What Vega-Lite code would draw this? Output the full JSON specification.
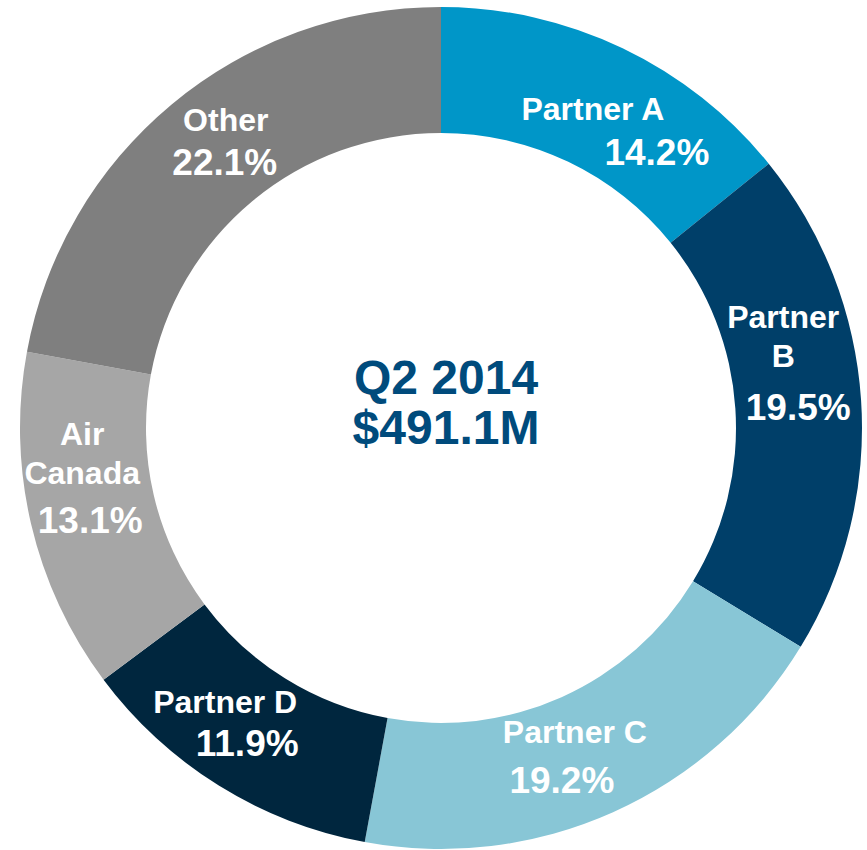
{
  "$schema": "https://vega.github.io/schema/vega-lite/v6.json",
  "width": 852,
  "height": 844,
  "autosize": "none",
  "padding": {"left": 15, "top": 6, "right": 0, "bottom": 0},
  "background": "white",
  "config": {
    "view": {"stroke": null},
    "text": {"font": "Liberation Sans", "fontWeight": "bold", "color": "white", "align": "center", "baseline": "alphabetic", "lineBreak": "\n", "lineHeight": 39}
  },
  "data": {
    "values": [
      {"idx": 1, "segment": "Partner A", "name": "Partner A", "pct": 14.2, "label": "14.2%"},
      {"idx": 2, "segment": "Partner B", "name": "Partner\nB", "pct": 19.5, "label": "19.5%"},
      {"idx": 3, "segment": "Partner C", "name": "Partner C", "pct": 19.2, "label": "19.2%"},
      {"idx": 4, "segment": "Partner D", "name": "Partner D", "pct": 11.9, "label": "11.9%"},
      {"idx": 5, "segment": "Air Canada", "name": "Air\nCanada", "pct": 13.1, "label": "13.1%"},
      {"idx": 6, "segment": "Other", "name": "Other", "pct": 22.1, "label": "22.1%"}
    ]
  },
  "encoding": {
    "theta": {"field": "pct", "type": "quantitative", "stack": true},
    "order": {"field": "idx", "type": "quantitative"}
  },
  "layer": [
    {
      "mark": {"type": "arc", "radius": 421, "radius2": 295, "stroke": null},
      "encoding": {
        "color": {
          "field": "segment",
          "type": "nominal",
          "scale": {
            "domain": ["Partner A", "Partner B", "Partner C", "Partner D", "Air Canada", "Other"],
            "range": ["#0096C8", "#003F69", "#88C6D6", "#00263E", "#A6A6A6", "#7F7F7F"]
          },
          "legend": null
        }
      }
    },
    {"mark": {"type": "text", "radius": 352, "fontSize": 32, "dx": 0, "dy": 10},
     "encoding": {"text": {"condition": {"test": "datum.idx === 1", "field": "name"}, "value": ""}}},
    {"mark": {"type": "text", "radius": 352, "fontSize": 32, "dx": -9, "dy": -77},
     "encoding": {"text": {"condition": {"test": "datum.idx === 2", "field": "name"}, "value": ""}}},
    {"mark": {"type": "text", "radius": 352, "fontSize": 32, "dx": -10, "dy": -6},
     "encoding": {"text": {"condition": {"test": "datum.idx === 3", "field": "name"}, "value": ""}}},
    {"mark": {"type": "text", "radius": 352, "fontSize": 32, "dx": -30, "dy": -14},
     "encoding": {"text": {"condition": {"test": "datum.idx === 4", "field": "name"}, "value": ""}}},
    {"mark": {"type": "text", "radius": 352, "fontSize": 32, "dx": -16, "dy": -63},
     "encoding": {"text": {"condition": {"test": "datum.idx === 5", "field": "name"}, "value": ""}}},
    {"mark": {"type": "text", "radius": 352, "fontSize": 32, "dx": 10, "dy": -26},
     "encoding": {"text": {"condition": {"test": "datum.idx === 6", "field": "name"}, "value": ""}}},
    {"mark": {"type": "text", "radius": 352, "fontSize": 37, "dx": 64, "dy": 55},
     "encoding": {"text": {"condition": {"test": "datum.idx === 1", "field": "label"}, "value": ""}}},
    {"mark": {"type": "text", "radius": 352, "fontSize": 37, "dx": 6, "dy": 15},
     "encoding": {"text": {"condition": {"test": "datum.idx === 2", "field": "label"}, "value": ""}}},
    {"mark": {"type": "text", "radius": 352, "fontSize": 37, "dx": -23, "dy": 44},
     "encoding": {"text": {"condition": {"test": "datum.idx === 3", "field": "label"}, "value": ""}}},
    {"mark": {"type": "text", "radius": 352, "fontSize": 37, "dx": -8, "dy": 29},
     "encoding": {"text": {"condition": {"test": "datum.idx === 4", "field": "label"}, "value": ""}}},
    {"mark": {"type": "text", "radius": 352, "fontSize": 37, "dx": -8, "dy": 25},
     "encoding": {"text": {"condition": {"test": "datum.idx === 5", "field": "label"}, "value": ""}}},
    {"mark": {"type": "text", "radius": 352, "fontSize": 37, "dx": 9, "dy": 18},
     "encoding": {"text": {"condition": {"test": "datum.idx === 6", "field": "label"}, "value": ""}}},
    {
      "data": {"values": [{"title": "Q2 2014\n$491.1M"}]},
      "mark": {"type": "text", "baseline": "middle", "dy": -48, "dx": 5, "fontSize": 48, "lineHeight": 50, "color": "#004B7C"},
      "encoding": {"text": {"field": "title", "type": "nominal"}, "theta": null, "order": null}
    }
  ]
}
